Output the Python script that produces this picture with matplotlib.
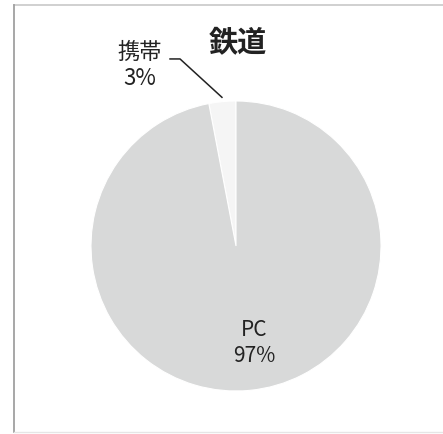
import matplotlib; matplotlib.use("Agg")
import matplotlib.pyplot as plt
import numpy as np
from matplotlib.lines import Line2D

plt.rcParams['font.family'] = ['Noto Sans CJK JP', 'DejaVu Sans']

title = "鉄道"
labels = ["携帯", "PC"]
shares = [3, 97]
colors = ["#f5f5f5", "#d8d9d9"]

W, H = 443, 435
cx, cy, r = 236, 247, 145  # pie centre / radius in px

fig = plt.figure(figsize=(W / 100, H / 100), dpi=100)
ax = fig.add_axes([0, 0, 1, 1])

wedges, _ = ax.pie(shares, colors=colors, startangle=90, counterclock=True,
                   radius=1, wedgeprops=dict(edgecolor="white", linewidth=0.8))

# pie() resets limits, so set them afterwards
ax.set_xlim(-cx / r, (W - cx) / r)
ax.set_ylim(-(H - cy) / r, cy / r)
ax.set_aspect("equal")
ax.axis("off")

# PC label inside its wedge
ax.text(0.124, -0.662, f"{labels[1]}\n{shares[1]}%", ha="center", va="center",
        fontsize=15, color="#222", linespacing=1.2)

# 携帯 label outside with leader line
w = wedges[0]
mid = np.deg2rad((w.theta1 + w.theta2) / 2)
ax.text(-0.662, 1.252, f"{labels[0]}\n{shares[0]}%", ha="center", va="center",
        fontsize=16, color="#222", linespacing=1.15)
ax.plot([-0.455, -0.386, 1.03 * np.cos(mid)], [1.29, 1.29, 1.03 * np.sin(mid)],
        color="#222", lw=1.1)

ax.text(0.01, 1.403, title, ha="center", va="center", fontsize=21,
        fontweight="bold", color="#222")

# scanned frame: top + left visible, bottom faint
tf = fig.transFigure
fig.lines += [
    Line2D([14 / W, 1], [1 - 6 / H] * 2, transform=tf, color="#c8c8c8", lw=1.2),
    Line2D([14 / W] * 2, [1 - 6 / H, 2 / H], transform=tf, color="#a0a0a0", lw=1.3),
    Line2D([14 / W, 1], [2 / H] * 2, transform=tf, color="#e6e6e6", lw=1),
]

fig.savefig("out.png", dpi=100)
